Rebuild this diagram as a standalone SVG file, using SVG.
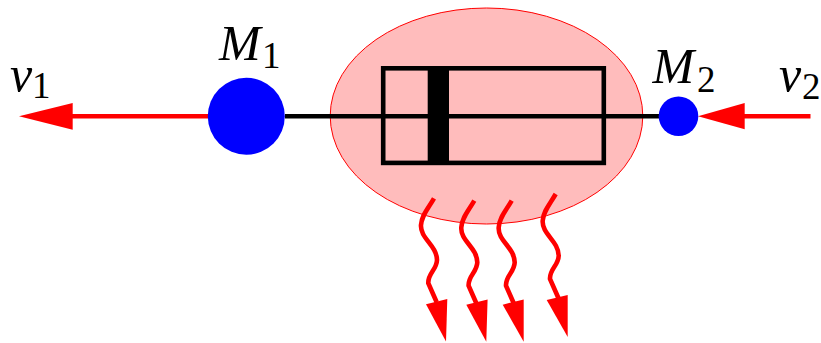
<svg xmlns="http://www.w3.org/2000/svg" width="821" height="343" viewBox="0 0 821 343">
<style>
.lbl{font-family:"Liberation Serif","Times New Roman",serif;font-style:italic;font-size:50px;fill:#000}
.sub{font-family:"Liberation Serif","Times New Roman",serif;font-size:37px;fill:#000}
.rl{stroke:#f00;stroke-width:4.6;fill:none}
.ah{fill:#f00;stroke:none}
.bk{stroke:#000;fill:none}
</style>
<rect width="821" height="343" fill="#fff"/>
<g id="chamber">
<ellipse cx="486.5" cy="116" rx="156.3" ry="108" fill="#ffbcbc" stroke="#f00" stroke-width="1"/>
</g>
<g id="connectors">
<line class="bk" x1="285" y1="116.2" x2="660" y2="116.2" stroke-width="4.6"/>
<line class="rl" x1="70" y1="116.2" x2="208" y2="116.2"/>
<polygon class="ah" points="19,116.3 72.7,103 72.7,129.7"/>
<line class="rl" x1="743" y1="116.2" x2="810.5" y2="116.2"/>
<polygon class="ah" points="698,116.2 744.7,103 744.7,129.3"/>
</g>
<g id="cylinder">
<rect class="bk" x="383.2" y="68.3" width="220.6" height="94.6" stroke-width="4.6"/>
<rect x="427.7" y="67" width="21.3" height="97" fill="#000"/>
</g>
<g id="M1">
<circle cx="246.3" cy="116.3" r="38.5" fill="#00f"/>
<text class="lbl" x="219" y="60">M</text><text class="sub" x="262" y="68.3">1</text>
</g>
<g id="M2">
<circle cx="678.5" cy="116.2" r="19.8" fill="#00f"/>
<text class="lbl" x="652.5" y="83">M</text><text class="sub" x="697" y="91.7">2</text>
</g>
<g id="v1"><text class="lbl" x="10" y="91">v</text><text class="sub" x="32" y="98">1</text></g>
<g id="v2"><text class="lbl" x="779" y="91">v</text><text class="sub" x="802" y="99">2</text></g>
<g id="heat">
<g transform="translate(434 198.3)"><path class="rl" d="M0,0C-5.7,10-12.3,16.7-13,26.7C-14,40 2.7,46.7 3,61.7C2.7,71.7-6.3,75-5.7,85L2.7,104"/><polygon class="ah" points="-8,106 13.3,100.7 12,143.3"/></g>
<g transform="translate(474.3 200.7)"><path class="rl" d="M0,0C-5.7,10-12.3,16.7-13,26.7C-14,40 2.7,46.7 3,61.7C2.7,71.7-6.3,75-5.7,85L2.7,104"/><polygon class="ah" points="-8,104 13.3,98.7 12,141"/></g>
<g transform="translate(511.7 200.7)"><path class="rl" d="M0,0C-5.7,10-12.3,16.7-13,26.7C-14,40 2.7,46.7 3,61.7C2.7,71.7-6.3,75-5.7,85L2.7,104"/><polygon class="ah" points="-9,104 12,98.7 12,141"/></g>
<g transform="translate(555.7 194)"><path class="rl" d="M0,0C-5.7,10-12.3,16.7-13,26.7C-14,40 2.7,46.7 3,61.7C2.7,71.7-6.3,75-5.7,85L2.7,104"/><polygon class="ah" points="-9,106 12,101 12,143"/></g>
</g>
</svg>
